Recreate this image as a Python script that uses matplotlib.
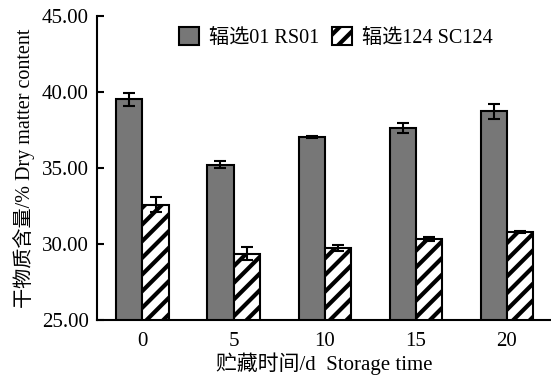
import matplotlib
matplotlib.use("Agg")
import matplotlib.pyplot as plt
import numpy as np

plt.rcParams['font.family'] = ['Liberation Serif', 'Noto Sans CJK SC']
plt.rcParams['hatch.linewidth'] = 3.0
plt.rcParams['hatch.color'] = 'black'

# storage time (days) and dry matter content (%)
days = ["0", "5", "10", "15", "20"]
rs01 = [39.52, 35.22, 37.04, 37.63, 38.73]
rs01_err = [0.45, 0.25, 0.08, 0.33, 0.50]
sc124 = [32.59, 29.36, 29.74, 30.31, 30.77]
sc124_err = [0.47, 0.42, 0.22, 0.12, 0.05]
labels = ["辐选01 RS01", "辐选124 SC124"]

fig = plt.figure(figsize=(5.51, 3.75), dpi=100)
ax = fig.add_axes([0.176, 0.147, 0.826, 0.81])

x = np.arange(len(days))
w = 0.286
err_kw = dict(elinewidth=1.5, capthick=1.5, capsize=4, ecolor='black')
ax.bar(x - w / 2, rs01, w, color='#777777', edgecolor='black',
       linewidth=1.5, yerr=rs01_err, error_kw=err_kw, label=labels[0])
ax.bar(x + w / 2, sc124, w, color='white', edgecolor='black', hatch='//',
       linewidth=1.5, yerr=sc124_err, error_kw=err_kw, label=labels[1])

ax.set_ylim(25, 45)
ax.set_xlim(-0.5, 4.5)
ax.set_yticks([25, 30, 35, 40, 45])
ax.set_yticklabels(["25.00", "30.00", "35.00", "40.00", "45.00"])
ax.set_xticks(x)
ax.set_xticklabels(days)
ax.tick_params(axis='y', direction='in', length=5, width=1.5, pad=6, labelsize=15)
ax.tick_params(axis='x', length=0, pad=9, labelsize=15)
for s in ['top', 'right']:
    ax.spines[s].set_visible(False)
for s in ['left', 'bottom']:
    ax.spines[s].set_linewidth(1.5)

ax.set_xlabel("贮藏时间/d  Storage time", fontsize=15, labelpad=1)
ax.set_ylabel("干物质含量/% Dry matter content", fontsize=14.5, labelpad=5)

ax.legend(loc='upper center', bbox_to_anchor=(0.525, 1.025), ncol=2, frameon=False,
          fontsize=14.5, handlelength=1.0, handleheight=1.0, columnspacing=0.6,
          handletextpad=0.5)

fig.savefig("out.png", dpi=100)
